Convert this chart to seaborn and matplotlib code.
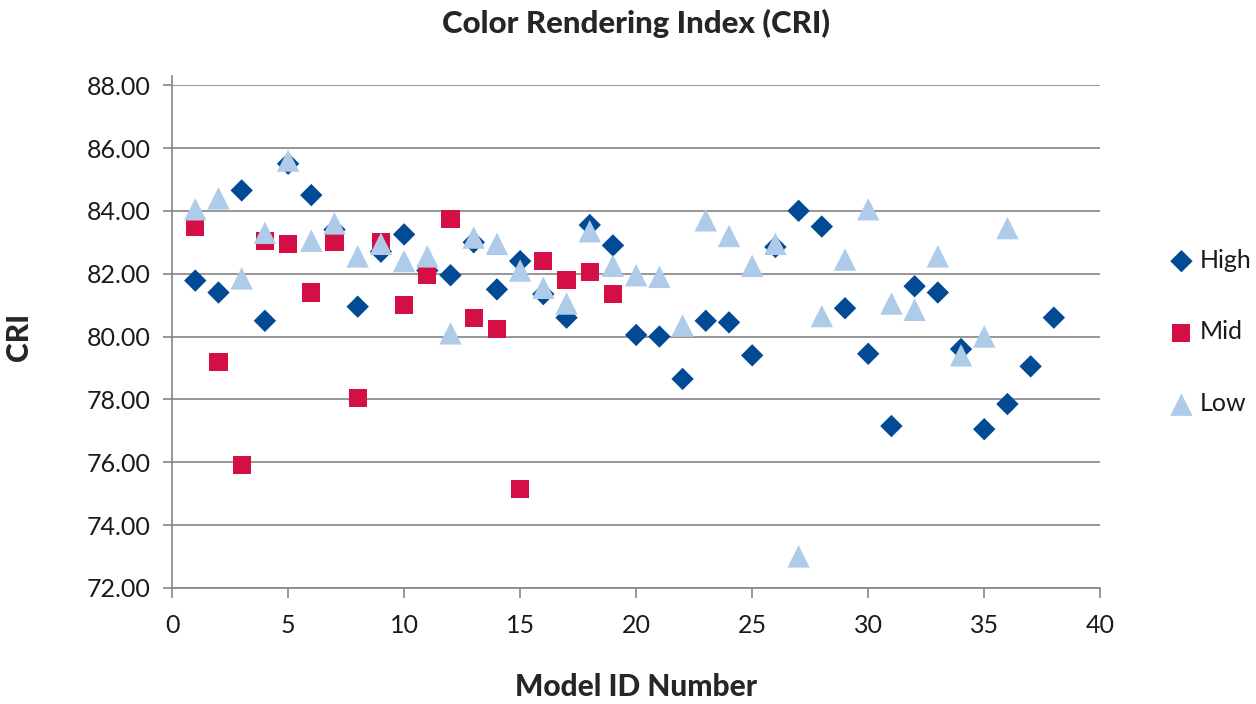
import numpy as np
import pandas as pd
import matplotlib
matplotlib.use("Agg")
import matplotlib.pyplot as plt
import seaborn as sns

high_vals = [81.78, 81.4, 84.65, 80.5, 85.5, 84.5, 83.4, 80.95, 82.7, 83.25,
             82.1, 81.95, 83.0, 81.5, 82.4, 81.35, 80.6, 83.55, 82.9, 80.05,
             80.0, 78.65, 80.5, 80.45, 79.4, 82.85, 84.0, 83.5, 80.9, 79.45,
             77.15, 81.6, 81.4, 79.6, 77.05, 77.85, 79.05, 80.6]
mid_vals = [83.5, 79.2, 75.9, 83.05, 82.95, 81.4, 83.0, 78.05, 83.0, 81.0,
            81.95, 83.75, 80.6, 80.25, 75.15, 82.4, 81.8, 82.05, 81.35]
low_vals = [84.05, 84.4, 81.85, 83.3, 85.6, 83.05, 83.6, 82.55, 82.95, 82.4,
            82.55, 80.1, 83.15, 82.95, 82.1, 81.55, 81.05, 83.35, 82.25, 81.95,
            81.9, 80.35, 83.7, 83.2, 82.25, 82.95, 73.0, 80.65, 82.45, 84.05,
            81.05, 80.85, 82.55, 79.4, 80.0, 83.45]

series_names = ["High", "Mid", "Low"]
colors = {"High": "#024A94", "Mid": "#D30F45", "Low": "#AECBEA"}
markers = {"High": "D", "Mid": "s", "Low": "^"}
sizes = {"High": 130, "Mid": 170, "Low": 260}

frames = []
for name, vals in zip(series_names, [high_vals, mid_vals, low_vals]):
    frames.append(pd.DataFrame({"Model ID Number": np.arange(1, len(vals) + 1),
                                "CRI": vals, "Series": name}))
df = pd.concat(frames, ignore_index=True)

sns.set_theme(style="white")
plt.rcParams['font.family'] = ['Lato', 'DejaVu Sans']

fig = plt.figure(figsize=(12.56, 7.04), dpi=100)
ax = fig.add_axes([0.137, 0.165, 0.739, 0.714])

for name in series_names:
    sub = df[df["Series"] == name]
    sns.scatterplot(data=sub, x="Model ID Number", y="CRI", ax=ax,
                    color=colors[name], marker=markers[name], s=sizes[name],
                    edgecolor="none", linewidth=0, label=name, zorder=3)

ax.set_xlim(0, 40)
ax.set_ylim(72, 88)
ax.set_xticks(np.arange(0, 41, 5))
ax.set_yticks(np.arange(72, 89, 2))
ax.set_yticklabels([f"{v:.2f}" for v in np.arange(72, 89, 2)])
ax.yaxis.grid(True, color="#858585", linewidth=1.2)
ax.xaxis.grid(False)
for s in ["top", "right"]:
    ax.spines[s].set_visible(False)
for s in ["left", "bottom"]:
    ax.spines[s].set_color("#858585")
    ax.spines[s].set_linewidth(1.2)
ax.spines["left"].set_bounds(72, 88.3)
ax.tick_params(axis="y", which="major", direction="out", length=6.5, width=1.2,
               color="#858585", left=True, labelsize=18, labelcolor="#1a1a1a", pad=9)
ax.tick_params(axis="x", which="major", direction="out", length=7, width=1.2,
               color="#858585", bottom=True, labelsize=18, labelcolor="#1a1a1a", pad=12)
ax.set_axisbelow(True)

ax.set_xlabel("Model ID Number", fontsize=21.5, fontweight="black")
ax.set_ylabel("CRI", fontsize=21.5, fontweight="black")
ax.xaxis.set_label_coords(0.5, -0.170)
ax.yaxis.set_label_coords(-0.150, 0.5)
ax.set_title("Color Rendering Index (CRI)", fontsize=22.5, fontweight="black",
             y=1.103, pad=0)

leg = ax.legend(loc="center left", bbox_to_anchor=(1.074, 0.509), frameon=False,
                fontsize=18, labelspacing=1.95, handletextpad=0.22,
                handlelength=1.0, borderaxespad=0, borderpad=0)
for t in leg.get_texts():
    t.set_color("#1a1a1a")

fig.savefig("out.png", dpi=100)
